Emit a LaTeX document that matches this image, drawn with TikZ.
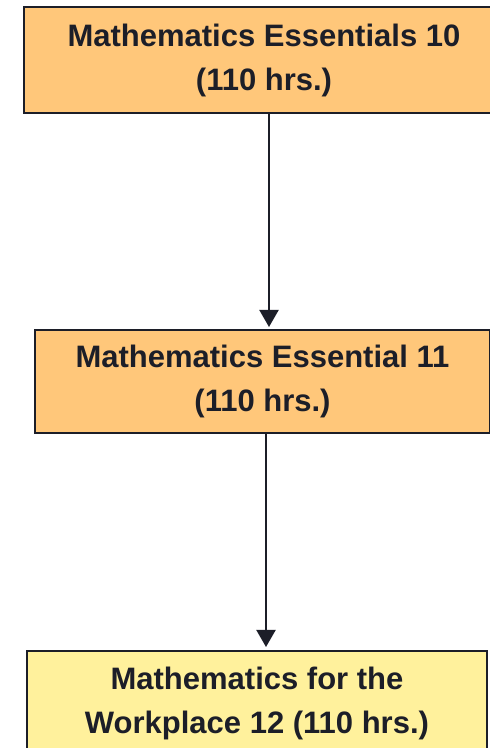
\documentclass[tikz,border=0pt]{standalone}
\usepackage{fontspec}
\setmainfont{Liberation Sans}[BoldFont={Liberation Sans Bold}]
\usetikzlibrary{arrows.meta}
\definecolor{boxorange}{RGB}{255,199,122}
\definecolor{boxyellow}{RGB}{255,241,156}
\definecolor{inkdark}{RGB}{28,30,40}
\begin{document}
\begin{tikzpicture}[x=1pt,y=1pt,
  course/.style={draw=inkdark, line width=2pt, inner sep=0pt, align=center,
    text=inkdark, font=\fontsize{31}{44}\selectfont\bfseries},
  arr/.style={draw=inkdark, line width=2pt, -{Triangle[length=17pt,width=19pt]}}]
\useasboundingbox (0,0) rectangle (490,748);
\clip (0,0) rectangle (490,748);
\fill[white] (0,0) rectangle (490,748);
\node[course, fill=boxorange, minimum width=480pt, minimum height=106pt] (b1) at (264,688)
  {Mathematics Essentials 10\\(110 hrs.)};
\node[course, fill=boxorange, minimum width=455pt, minimum height=103pt] (b2) at (262.5,366.5)
  {Mathematics Essential 11\\(110 hrs.)};
\node[course, fill=boxyellow, minimum width=460pt, minimum height=104pt] (b3) at (257,45)
  {Mathematics for the\\Workplace 12 (110 hrs.)};
\draw[arr] ([xshift=5pt]b1.south) -- ([xshift=5pt,yshift=2pt]b1.south |- b2.north);
\draw[arr] ([xshift=3.5pt]b2.south) -- ([xshift=3.5pt,yshift=3pt]b2.south |- b3.north);
\end{tikzpicture}
\end{document}
